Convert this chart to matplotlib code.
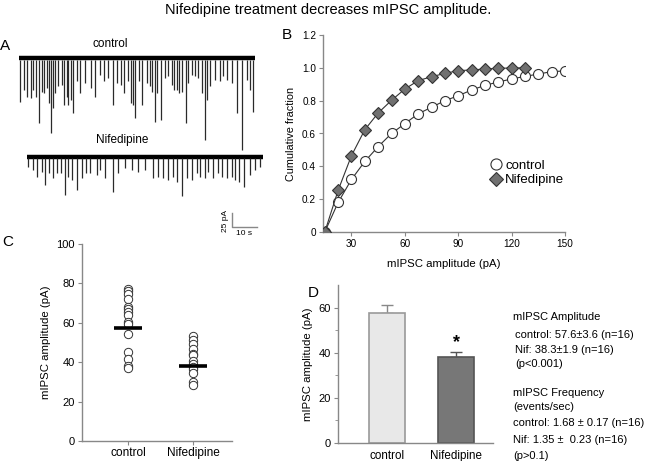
import numpy as np
import matplotlib
matplotlib.use('Agg')
import matplotlib.pyplot as plt
from matplotlib.lines import Line2D

plt.rcParams['font.family'] = ['Liberation Sans', 'DejaVu Sans']

W, H = 656, 461

# ---------------- data ----------------
# panel A: mIPSC events (time s, amplitude pA)
ctrl_evt_t = [0.4, 2.1, 3.1, 4.7, 5.7, 6.7, 8.1, 9.1, 10.1, 11.1, 12.1, 12.7, 13.5, 14.4,
              15.5, 17.1, 18.1, 19.1, 19.7, 20.7, 21.7, 23.1, 24.4, 26.4, 28.8, 30.4,
              32.4, 34.1, 35.5, 37.7, 39.1, 40.8, 42.0, 43.5, 44.7, 45.5, 46.4, 48.0,
              49.3, 51.1, 52.4, 53.3, 54.4, 55.3, 56.8, 58.4, 59.7, 61.1, 62.1, 63.1,
              64.1, 65.3, 66.8, 67.7, 69.1, 70.4, 71.7, 73.1, 74.4, 75.1, 76.4, 78.4,
              80.4, 81.7, 83.1, 85.1, 87.1, 89.1, 91.1, 92.4, 93.7]
ctrl_evt_a = [78, 57, 69, 72, 57, 69, 117, 60, 63, 54, 81, 134, 90, 63,
              51, 48, 84, 69, 84, 75, 99, 42, 63, 45, 54, 69,
              30, 42, 36, 84, 45, 48, 63, 42, 81, 84, 108, 42,
              84, 45, 51, 60, 114, 63, 111, 36, 33, 48, 57, 57,
              63, 60, 117, 45, 30, 33, 36, 63, 146, 75, 51, 39,
              42, 33, 39, 45, 99, 164, 39, 57, 96]
nif_evt_t = [0.5, 2.5, 3.9, 5.9, 7.2, 8.9, 10.5, 11.9, 13.5, 15.2, 16.5, 17.9, 20.1,
             21.9, 23.6, 25.2, 27.9, 29.2, 31.2, 34.5, 36.5, 39.2, 41.9, 44.5, 47.2,
             50.5, 52.5, 54.5, 56.5, 58.5, 59.9, 62.1, 63.9, 65.9, 67.9, 69.2, 71.2,
             72.5, 74.5, 76.5, 77.9, 79.9, 81.9, 83.2, 84.9, 86.9, 89.2, 91.2, 93.2]
nif_evt_a = [19, 25, 37, 28, 52, 31, 40, 31, 31, 70, 37, 43, 61,
             40, 31, 31, 34, 25, 40, 65, 31, 22, 25, 28, 25,
             40, 37, 40, 43, 37, 46, 71, 40, 43, 31, 37, 40,
             28, 40, 31, 37, 40, 37, 43, 46, 55, 34, 25, 19]
trace_len = 94.4  # s

# panel B: cumulative fractions
amp_bins_ctrl = [15, 22.5, 30, 37.5, 45, 52.5, 60, 67.5, 75, 82.5, 90, 97.5, 105,
                 112.5, 120, 127.5, 135, 142.5, 150]
cum_ctrl = [0, 0.18, 0.32, 0.43, 0.52, 0.60, 0.66, 0.72, 0.76, 0.80, 0.83, 0.865,
            0.893, 0.914, 0.932, 0.948, 0.962, 0.977, 0.981]
amp_bins_nif = [15, 22.5, 30, 37.5, 45, 52.5, 60, 67.5, 75, 82.5, 90, 97.5, 105,
                112.5, 120, 127.5]
cum_nif = [0, 0.254, 0.465, 0.623, 0.725, 0.802, 0.871, 0.922, 0.946, 0.966, 0.983,
           0.987, 0.993, 0.997, 0.999, 1.0]

# panel C: per-cell mean amplitudes
cell_ctrl = [77.3, 76.0, 74.5, 72.3, 68.0, 66.8, 65.5, 64.1, 60.4, 59.4, 54.1, 45.2,
             41.5, 37.9, 37.1]
cell_nif = [53.3, 51.1, 49.4, 46.9, 44.3, 43.5, 40.4, 39.3, 37.6, 36.4, 34.7, 29.9, 28.3]

# panel D: group means
groups = ['control', 'Nifedipine']
mean_amp = [57.6, 38.3]
sem_amp = [3.6, 1.9]

# ---------------- figure ----------------
fig = plt.figure(figsize=(W / 100, H / 100), dpi=100)


def px_axes(l, t, r, b):
    return fig.add_axes([l / W, 1 - b / H, (r - l) / W, (b - t) / H])


def ftext(x, y, s, **kw):
    fig.text(x / W, 1 - y / H, s, **kw)


def style_axes(ax, tick_fs):
    for s in ['top', 'right']:
        ax.spines[s].set_visible(False)
    for s in ['left', 'bottom']:
        ax.spines[s].set_color('#888888')
        ax.spines[s].set_linewidth(1.0)
    ax.tick_params(direction='out', length=3, width=0.8, color='#888888',
                   labelsize=tick_fs, pad=2)


ftext(328, 10, 'Nifedipine treatment decreases mIPSC amplitude.', ha='center',
      va='center', fontsize=10.5)

# ---- A: traces ----
axA = px_axes(0, 40, 280, 240)
axA.set_xlim(-7.6, 104.4)
axA.set_ylim(-325, 32)
axA.axis('off')
nif_dt, nif_base = 3.2, -175
axA.plot([0, trace_len], [-1, -1], color='black', lw=3.2, solid_capstyle='butt')
axA.vlines(ctrl_evt_t, -3, -np.array(ctrl_evt_a), color='#2a2a2a', lw=0.9)
axA.plot([nif_dt, nif_dt + trace_len], [nif_base - 1, nif_base - 1], color='black',
         lw=3.2, solid_capstyle='butt')
axA.vlines(np.array(nif_evt_t) + nif_dt, nif_base - 3,
           nif_base - np.array(nif_evt_a), color='#2a2a2a', lw=0.9)
# scale bar 10 s / 25 pA
sb_x, sb_y = 85.2, -301.8
axA.plot([sb_x, sb_x, sb_x + 10], [sb_y + 25, sb_y, sb_y], color='#888888', lw=1.0)
ftext(226, 221, '25 pA', rotation=90, ha='center', va='center', fontsize=6)
ftext(244, 233, '10 s', ha='center', va='center', fontsize=6)
ftext(110, 44, 'control', ha='center', va='center', fontsize=8.5)
ftext(122, 140, 'Nifedipine', ha='center', va='center', fontsize=8.5)

# ---- B: cumulative ----
axB = px_axes(323, 35, 565, 232)
style_axes(axB, 7.2)
axB.plot(amp_bins_ctrl, cum_ctrl, color='#333333', lw=0.8, marker='o', ms=7.2,
         mfc='white', mec='#333333', mew=0.8, label='control', zorder=2)
axB.plot(amp_bins_nif, cum_nif, color='#333333', lw=0.8, marker='D', ms=6.5,
         mfc='#707070', mec='#333333', mew=0.8, label='Nifedipine', zorder=3)
axB.set_xlim(14, 150)
axB.set_ylim(0, 1.2)
axB.set_xticks([30, 60, 90, 120, 150])
axB.set_yticks([0, 0.2, 0.4, 0.6, 0.8, 1.0, 1.2])
axB.set_yticklabels(['0', '0.2', '0.4', '0.6', '0.8', '1.0', '1.2'])
axB.set_ylabel('Cumulative fraction', fontsize=7.8, labelpad=4)
axB.set_xlabel('mIPSC amplitude (pA)', fontsize=8.2, labelpad=7)
handles = [Line2D([], [], ls='none', marker='o', ms=8, mfc='white', mec='#333333', mew=0.8),
           Line2D([], [], ls='none', marker='D', ms=7, mfc='#707070', mec='#333333', mew=0.8)]
axB.legend(handles, ['control', 'Nifedipine'], loc='center left',
           bbox_to_anchor=(0.665, 0.30), frameon=False, fontsize=9.5,
           handlelength=0.8, handletextpad=0.3, labelspacing=0.15, borderpad=0)
ftext(287, 35, 'B', ha='center', va='center', fontsize=11)

# ---- C: scatter ----
axC = px_axes(82, 244, 232, 441)
style_axes(axC, 8)
axC.plot([1] * len(cell_ctrl), cell_ctrl, ls='none', marker='o', ms=6, mfc='white',
         mec='#333333', mew=0.7)
axC.plot([2] * len(cell_nif), cell_nif, ls='none', marker='o', ms=6, mfc='white',
         mec='#333333', mew=0.7)
axC.hlines(mean_amp, [0.78, 1.78], [1.22, 2.22], color='black', lw=2.6, zorder=4)
axC.set_xlim(0.29, 2.6)
axC.set_ylim(0, 100)
axC.set_xticks([1, 2])
axC.set_xticklabels(groups, fontsize=8.6)
axC.tick_params(axis='x', pad=1.5)
axC.set_yticks([0, 20, 40, 60, 80, 100])
axC.set_ylabel('mIPSC amplitude (pA)', fontsize=8.2, labelpad=4)
ftext(8, 242, 'C', ha='center', va='center', fontsize=11)

# ---- D: bars ----
axD = px_axes(338, 285, 493, 443)
style_axes(axD, 8)
axD.bar([1, 2], mean_amp, width=0.52, color=['#e8e8e8', '#777777'],
        edgecolor=['#999999', '#555555'], linewidth=1.2, zorder=2)
axD.errorbar([1], [mean_amp[0]], yerr=[[0], [sem_amp[0]]], fmt='none',
             ecolor='#888888', elinewidth=1.0, capsize=4, capthick=1.0, zorder=1)
axD.errorbar([2], [mean_amp[1]], yerr=[[0], [sem_amp[1]]], fmt='none',
             ecolor='#555555', elinewidth=1.0, capsize=4, capthick=1.0, zorder=1)
axD.text(2, mean_amp[1] + sem_amp[1] + 0.5, '*', ha='center', va='bottom',
         fontsize=13, fontweight='bold')
axD.set_xlim(0.295, 2.53)
axD.set_ylim(0, 70)
axD.set_xticks([1, 2])
axD.set_xticklabels(groups, fontsize=8.4)
axD.tick_params(axis='x', length=0, pad=5)
axD.set_yticks([0, 20, 40, 60])
axD.set_yticks([10, 30, 50], minor=True)
axD.tick_params(axis='y', which='minor', length=2, color='#888888')
axD.set_ylabel('mIPSC amplitude (pA)', fontsize=8.2, labelpad=4)
ftext(313, 293, 'D', ha='center', va='center', fontsize=11)

stats_lines = [
    (513, 317, 'mIPSC Amplitude'),
    (515, 335, 'control: 57.6\u00b13.6 (n=16)'),
    (515, 350, 'Nif: 38.3\u00b11.9 (n=16)'),
    (515, 364, '(p<0.001)'),
    (513, 393, 'mIPSC Frequency'),
    (513, 407, '(events/sec)'),
    (513, 423, 'control: 1.68 \u00b1 0.17 (n=16)'),
    (513, 440, 'Nif: 1.35 \u00b1  0.23 (n=16)'),
    (513, 456, '(p>0.1)'),
]
for x, y, s in stats_lines:
    ftext(x, y, s, ha='left', va='center', fontsize=8)
ftext(5, 46, 'A', ha='center', va='center', fontsize=11)

fig.savefig('out.png', dpi=100)
